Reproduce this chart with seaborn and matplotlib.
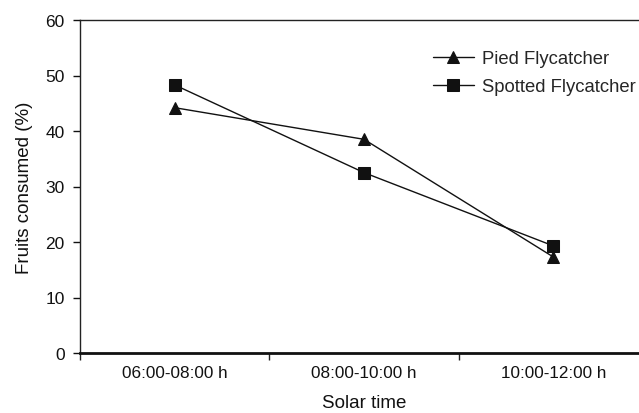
import numpy as np
import pandas as pd
import matplotlib
matplotlib.use("Agg")
import matplotlib.pyplot as plt
import seaborn as sns

# data
periods = ["06:00-08:00 h", "08:00-10:00 h", "10:00-12:00 h"]
pied = [44.2, 38.5, 17.3]
spotted = [48.3, 32.5, 19.3]
species = ["Pied Flycatcher", "Spotted Flycatcher"]

sns.set_style("white")
plt.rcParams["font.family"] = ["Liberation Sans", "DejaVu Sans"]

df = pd.DataFrame({
    "pos": list(range(len(periods))) * 2,
    "value": pied + spotted,
    "species": [species[0]] * len(pied) + [species[1]] * len(spotted),
})

fig = plt.figure(figsize=(6.39, 4.14), dpi=100)
ax = fig.add_axes([80 / 639, 60 / 414, 568 / 639, 333 / 414])

sns.lineplot(data=df, x="pos", y="value", hue="species", style="species",
             palette=["#111111", "#111111"], markers={species[0]: "^", species[1]: "s"},
             dashes=False, markersize=8.5, linewidth=1.0, markeredgecolor="#111111",
             ax=ax)

ax.set_xlim(-0.5, len(periods) - 0.5)
ax.set_ylim(0, 60)
ax.set_yticks(np.arange(0, 61, 10))
ax.set_xticks(range(len(periods)))
ax.set_xticklabels(periods)
ax.set_xticks(np.arange(-0.5, len(periods), 1.0), minor=True)
ax.tick_params(axis="x", which="major", length=0, pad=9, labelsize=12.3, colors="#111111")
ax.tick_params(axis="x", which="minor", length=5, width=1, direction="out", bottom=True, color="#222222")
ax.tick_params(axis="y", length=5, width=1, direction="out", left=True, labelsize=12.5,
               colors="#111111", pad=6)

ax.set_xlabel("Solar time", fontsize=13.5, color="#111111", labelpad=10)
ax.set_ylabel("Fruits consumed (%)", fontsize=13.5, color="#111111", labelpad=9)

for side in ["left", "top"]:
    ax.spines[side].set_visible(True)
    ax.spines[side].set_linewidth(1.0)
    ax.spines[side].set_color("#222222")
ax.spines["bottom"].set_linewidth(2.0)
ax.spines["bottom"].set_color("#111111")
ax.spines["right"].set_visible(False)

leg = ax.legend(loc="upper left", bbox_to_anchor=((433 - 80) / 568, (354 - 51) / 333),
                frameon=False, fontsize=13.3, handlelength=2.2, handletextpad=0.45,
                labelspacing=0.62, borderpad=0, borderaxespad=0)
leg.set_title(None)

fig.savefig("out.png", dpi=100)
